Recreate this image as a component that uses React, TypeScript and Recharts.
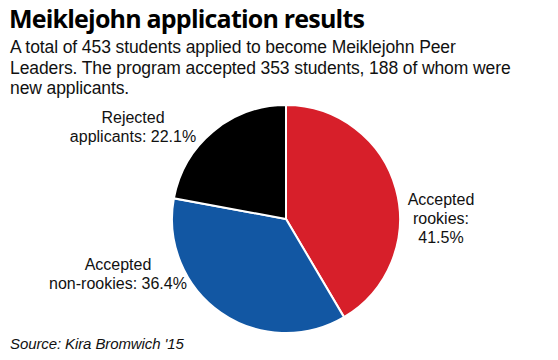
import React from "react";
import { PieChart, Pie, Cell } from "recharts";

const categories = ["Accepted rookies", "Accepted non-rookies", "Rejected applicants"];
const shares = [41.5, 36.4, 22.1];
const sliceColors = ["#d71f2a", "#1257a3", "#000000"];

const data = categories.map((name, i) => ({ name, value: shares[i] }));

const TITLE_FONT = "'Open Sans', sans-serif";
const FONT = "'Liberation Sans', Arial, sans-serif";

function Label({ left, top, lines }: { left: number; top: number; lines: string[] }) {
  return (
    <div
      style={{
        position: "absolute",
        left,
        top,
        width: 200,
        marginLeft: -100,
        textAlign: "center",
        fontSize: 16,
        lineHeight: "19px",
        color: "#111",
        fontFamily: FONT,
        letterSpacing: 0,
      }}
    >
      {lines.map((l) => (
        <div key={l}>{l}</div>
      ))}
    </div>
  );
}

const subtitle = [
  "A total of 453 students applied to become Meiklejohn Peer",
  "Leaders. The program accepted 353 students, 188 of whom were",
  "new applicants.",
];

export default function App() {
  return (
    <div
      style={{
        position: "absolute",
        left: 0,
        top: 0,
        width: 558,
        height: 360,
        background: "#fff",
        overflow: "hidden",
        fontFamily: FONT,
      }}
    >
      <div
        style={{
          position: "absolute",
          left: 9,
          top: 2,
          fontFamily: TITLE_FONT,
          fontSize: 25,
          fontWeight: 700,
          letterSpacing: -0.8,
          color: "#000",
          lineHeight: "32px",
        }}
      >
        Meiklejohn application results
      </div>
      {subtitle.map((line, i) => (
        <div
          key={line}
          style={{
            position: "absolute",
            left: 10,
            top: 37 + i * 20.5,
            fontSize: 17.5,
            lineHeight: "20px",
            letterSpacing: -0.1,
            color: "#111",
            whiteSpace: "nowrap",
          }}
        >
          {line}
        </div>
      ))}

      <div style={{ position: "absolute", left: 0, top: 0 }}>
        <PieChart width={558} height={360} margin={{ top: 0, right: 0, bottom: 0, left: 0 }}>
          <Pie
            data={data}
            dataKey="value"
            nameKey="name"
            cx={286}
            cy={219}
            outerRadius={114}
            startAngle={90}
            endAngle={-270}
            stroke="#fff"
            strokeWidth={2}
            isAnimationActive={false}
          >
            {data.map((d, i) => (
              <Cell key={d.name} fill={sliceColors[i]} />
            ))}
          </Pie>
        </PieChart>
      </div>

      <Label left={133} top={108} lines={["Rejected", "applicants: 22.1%"]} />
      <Label left={441} top={190} lines={["Accepted", "rookies:", "41.5%"]} />
      <Label left={118} top={255} lines={["Accepted", "non-rookies: 36.4%"]} />

      <div
        style={{
          position: "absolute",
          left: 10,
          top: 334,
          fontSize: 15,
          fontStyle: "italic",
          letterSpacing: -0.1,
          color: "#111",
          lineHeight: "20px",
        }}
      >
        Source: Kira Bromwich '15
      </div>
    </div>
  );
}
